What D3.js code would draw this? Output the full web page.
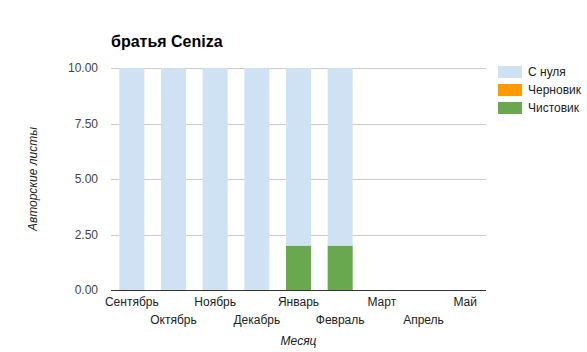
<!DOCTYPE html>
<html>
<head>
<meta charset="utf-8">
<script src="https://cdn.jsdelivr.net/npm/d3@7"></script>
<style>
  body { margin: 0; background: #fff; }
  text { font-family: Arial, "Liberation Sans", sans-serif; }
</style>
</head>
<body>
<div id="chart"></div>
<script>
// данные
const months = ["Сентябрь", "Октябрь", "Ноябрь", "Декабрь", "Январь", "Февраль", "Март", "Апрель", "Май"];
const seriesNames = ["Чистовик", "Черновик", "С нуля"];
const clean = [0, 0, 0, 0, 2, 2, 0, 0, 0];
const draft = [0, 0, 0, 0, 0, 0, 0, 0, 0];
const scratch = [10, 10, 10, 10, 8, 8, 0, 0, 0];
const yTicks = [0, 2.5, 5, 7.5, 10];
const colors = { "Чистовик": "#6aa84f", "Черновик": "#ff9900", "С нуля": "#cfe2f3" };

const width = 587, height = 352;
const margin = { left: 111, right: 101, top: 68, bottom: 62 };

const rows = months.map((m, i) => ({ month: m, "Чистовик": clean[i], "Черновик": draft[i], "С нуля": scratch[i] }));
const stacked = d3.stack().keys(seriesNames)(rows);

const svg = d3.select("#chart").append("svg")
  .attr("width", width)
  .attr("height", height);

const x = d3.scaleBand()
  .domain(months)
  .range([margin.left, width - margin.right])
  .paddingInner(0.4)
  .paddingOuter(0.2);

const y = d3.scaleLinear()
  .domain([0, 10])
  .range([height - margin.bottom, margin.top]);

// сетка
svg.append("g")
  .selectAll("line")
  .data(yTicks.filter(d => d > 0))
  .join("line")
  .attr("x1", margin.left)
  .attr("x2", width - margin.right)
  .attr("y1", d => Math.round(y(d)) + 0.5)
  .attr("y2", d => Math.round(y(d)) + 0.5)
  .attr("stroke", "#cccccc");

// подписи оси Y
svg.append("g")
  .selectAll("text")
  .data(yTicks)
  .join("text")
  .attr("x", margin.left - 13)
  .attr("y", d => y(d))
  .attr("dy", "0.35em")
  .attr("text-anchor", "end")
  .attr("font-size", 12)
  .attr("fill", "#444")
  .text(d => d3.format(".2f")(d));

// столбики
svg.append("g")
  .selectAll("g")
  .data(stacked)
  .join("g")
  .attr("fill", d => colors[d.key])
  .selectAll("rect")
  .data(d => d)
  .join("rect")
  .attr("x", d => x(d.data.month))
  .attr("width", x.bandwidth())
  .attr("y", d => y(d[1]))
  .attr("height", d => y(d[0]) - y(d[1]));

// базовая линия
svg.append("line")
  .attr("x1", margin.left)
  .attr("x2", width - margin.right)
  .attr("y1", Math.round(y(0)) + 0.5)
  .attr("y2", Math.round(y(0)) + 0.5)
  .attr("stroke", "#333");

// подписи оси X (в два ряда)
svg.append("g")
  .selectAll("text")
  .data(months)
  .join("text")
  .attr("x", d => x(d) + x.bandwidth() / 2)
  .attr("y", (d, i) => i % 2 === 0 ? 306 : 324)
  .attr("text-anchor", "middle")
  .attr("font-size", 12)
  .attr("fill", "#222")
  .text(d => d);

// названия осей
svg.append("text")
  .attr("x", (margin.left + width - margin.right) / 2)
  .attr("y", 345)
  .attr("text-anchor", "middle")
  .attr("font-size", 12)
  .attr("font-style", "italic")
  .attr("fill", "#222")
  .text("Месяц");

svg.append("text")
  .attr("transform", `translate(37, ${(margin.top + height - margin.bottom) / 2}) rotate(-90)`)
  .attr("text-anchor", "middle")
  .attr("font-size", 12)
  .attr("font-style", "italic")
  .attr("fill", "#222")
  .text("Авторские листы");

// заголовок
svg.append("text")
  .attr("x", margin.left)
  .attr("y", 47)
  .attr("font-size", 16)
  .attr("font-weight", "bold")
  .attr("fill", "#000")
  .text("братья Ceniza");

// легенда
const legend = svg.append("g")
  .selectAll("g")
  .data(seriesNames.slice().reverse())
  .join("g")
  .attr("transform", (d, i) => `translate(498, ${66 + i * 18})`);

legend.append("rect")
  .attr("width", 24)
  .attr("height", 12)
  .attr("fill", d => colors[d]);

legend.append("text")
  .attr("x", 30)
  .attr("y", 6)
  .attr("dy", "0.35em")
  .attr("font-size", 12)
  .attr("fill", "#222")
  .text(d => d);
</script>
</body>
</html>
